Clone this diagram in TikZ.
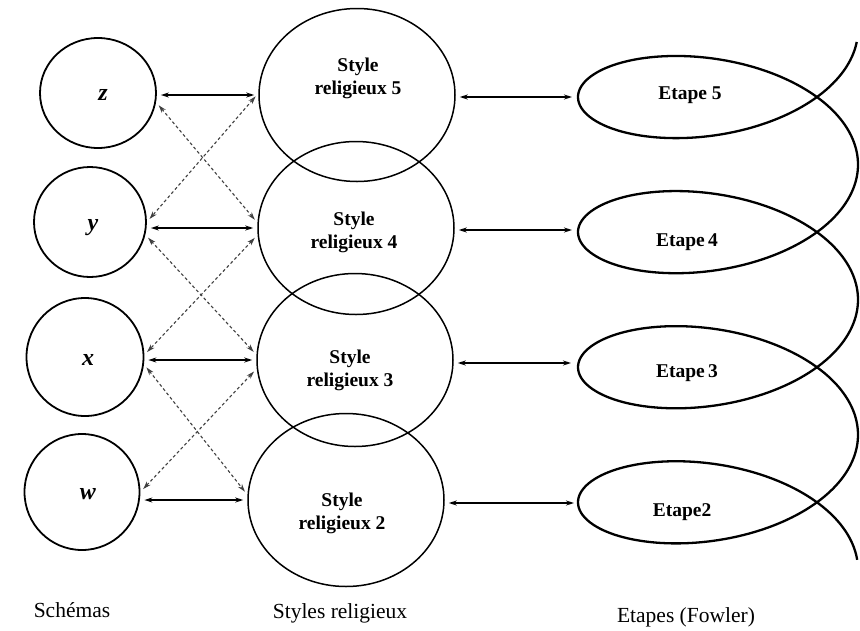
\documentclass[tikz,border=0pt]{standalone}
\usepackage{fontspec}
\setmainfont{Liberation Serif}
\usetikzlibrary{shapes.geometric,arrows.meta}
\begin{document}
\begin{tikzpicture}[x=1pt,y=-1pt,
  schema/.style={ellipse,draw,line width=1.8pt,inner sep=0pt},
  letter/.style={font=\fontsize{24}{28}\selectfont\bfseries\itshape},
  srstyle/.style={ellipse,draw,line width=1.5pt,inner sep=0pt,minimum width=196pt,minimum height=173pt},
  srtext/.style={align=center,font=\fontsize{19.5}{23}\selectfont\bfseries},
  etext/.style={font=\fontsize{19.5}{23}\selectfont\bfseries},
  caption/.style={font=\fontsize{21.5}{25}\selectfont},
  arr/.style={{Stealth[length=8pt,width=5pt]}-{Stealth[length=8pt,width=5pt]},line width=2pt,shorten <=4pt,shorten >=4pt},
  darr/.style={{Stealth[length=8pt,width=5pt]}-{Stealth[length=8pt,width=5pt]},line width=1.1pt,dash pattern=on 3pt off 2.5pt,black!75,shorten <=4pt,shorten >=4pt},
  spiral/.style={line width=2.3pt}]
\useasboundingbox (0,0) rectangle (860,630);
% schemas
\node[schema,minimum width=116pt,minimum height=110pt] (z) at (98,93) {};
\node[schema,minimum width=112pt,minimum height=110pt] (y) at (90,222) {};
\node[schema,minimum width=117pt,minimum height=118pt] (x) at (85,357) {};
\node[schema,minimum width=115pt,minimum height=116pt] (w) at (82,492) {};
\node[letter] (lz) at (103,95) {z};
\node[letter] (ly) at (93,228) {y};
\node[letter] (lx) at (88,360) {x};
\node[letter] (lw) at (88,494) {w};
% styles religieux
\node[srstyle] (sr5) at (357,95) {};
\node[srstyle] (sr4) at (356,228) {};
\node[srstyle] (sr3) at (355,360) {};
\node[srstyle] (sr2) at (346,500) {};
\node[srtext] (t5) at (358,78) {Style\\religieux 5};
\node[srtext] (t4) at (354,232) {Style\\religieux 4};
\node[srtext] (t3) at (350,370) {Style\\religieux 3};
\node[srtext] (t2) at (342,513) {Style\\religieux 2};
% spiral
\draw[spiral] plot[domain=0.134:25.03,samples=500,smooth,variable=\t]
  ({718+140*cos(\t r)},{29.5+21.5*\t+71.6*sin(\t r)});
\coordinate (e5) at (576,97);
\coordinate (e4) at (576,230);
\coordinate (e3) at (575,363);
\coordinate (e2) at (578,503);
\node[etext] (l5) at (690,95) {Etape 5};
\node[etext] (l4) at (687,242) {Etape\,4};
\node[etext] (l3) at (687,373) {Etape\,3};
\node[etext] (l2) at (682,512) {Etape2};
% solid arrows schemas - styles
\draw[arr] (sr5.west -| z.east) -- (sr5.west);
\draw[arr] (sr4.west -| y.east) -- (sr4.west);
\draw[arr] (sr3.west -| x.east) -- (sr3.west);
\draw[arr] (sr2.west -| w.east) -- (sr2.west);
% dashed arrows
\draw[darr] (z.-9) -- (sr4.177);
\draw[darr] (sr5.179) -- (y.0);
\draw[darr] (y.-13) -- (sr3.177);
\draw[darr] (sr4.184) -- (x.2);
\draw[darr] (x.-7) -- (sr2.177);
\draw[darr] (sr3.185) -- (w.0);
% arrows styles - etapes
\draw[arr] (sr5.east |- e5) -- (e5);
\draw[arr] (sr4.east |- e4) -- (e4);
\draw[arr] (sr3.east |- e3) -- (e3);
\draw[arr] (sr2.east |- e2) -- (e2);
% captions
\node[caption] (c1) at (72,610) {Schémas};
\node[caption] (c2) at (340,613) {Styles religieux};
\node[caption] (c3) at (686,617) {Etapes (Fowler)};
\end{tikzpicture}
\end{document}
